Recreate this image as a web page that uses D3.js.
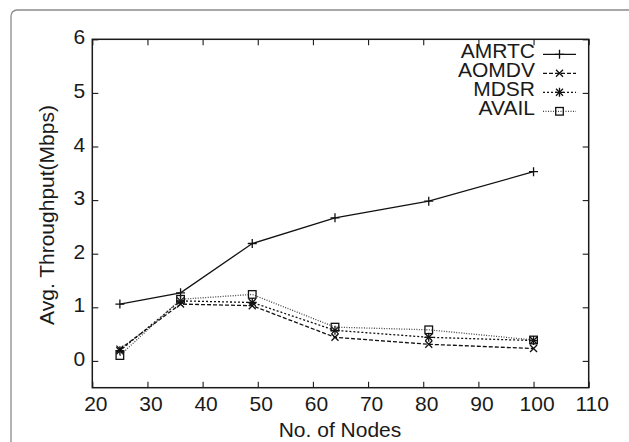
<!DOCTYPE html>
<html>
<head>
<meta charset="utf-8">
<script src="https://cdn.jsdelivr.net/npm/d3@7"></script>
<style>
  body { margin: 0; background: #fff; }
  svg { display: block; }
  text { font-family: "Liberation Sans", Arial, sans-serif; fill: #1a1a1a; }
</style>
</head>
<body>
<svg id="chart"></svg>
<script>
var width = 629
var height = 442

// data
var nodes = [25, 36, 49, 64, 81, 100]
var amrtc = [1.06, 1.27, 2.19, 2.67, 2.98, 3.53]
var aomdv = [0.22, 1.06, 1.03, 0.44, 0.31, 0.23]
var mdsr  = [0.19, 1.12, 1.09, 0.57, 0.44, 0.38]
var avail = [0.10, 1.15, 1.24, 0.63, 0.58, 0.39]
var seriesNames = ["AMRTC", "AOMDV", "MDSR", "AVAIL"]
var xTicks = [20, 30, 40, 50, 60, 70, 80, 90, 100, 110]
var yTicks = [0, 1, 2, 3, 4, 5, 6]

var plot = {left: 92.3, right: 588.7, top: 39.3, bottom: 387.7}
var fontSize = "21px"

var svg = d3.select("#chart")
  .attr("width", width)
  .attr("height", height)

svg.append("rect").attr("width", width).attr("height", height).attr("fill", "#fff")

// outer frame of the figure (rounded corner, runs off right/bottom)
svg.append("rect")
  .attr("x", 11).attr("y", 10)
  .attr("width", 640).attr("height", 460)
  .attr("rx", 6)
  .attr("fill", "none")
  .attr("stroke", "#8a8a8a")
  .attr("stroke-width", 1.3)

var x = d3.scaleLinear().domain([20, 110]).range([plot.left, plot.right])
var y = d3.scaleLinear().domain([-0.5, 6]).range([plot.bottom, plot.top])

function styleAxis(g, hideText) {
  g.select(".domain").remove()
  g.selectAll(".tick line").attr("stroke", "#1a1a1a").attr("stroke-width", 1.1)
  if (hideText) g.selectAll(".tick text").remove()
  else g.selectAll(".tick text")
    .attr("font-size", fontSize)
    .attr("fill", "#1a1a1a")
    .attr("font-family", "Liberation Sans, Arial, sans-serif")
}

svg.append("g")
  .attr("transform", "translate(0," + plot.bottom + ")")
  .call(d3.axisBottom(x).tickValues(xTicks).tickFormat(d3.format("d")).tickSize(-6).tickPadding(8))
  .call(function(g){ styleAxis(g, false) })
  .selectAll(".tick text").attr("dx", "3")

svg.append("g")
  .attr("transform", "translate(0," + plot.top + ")")
  .call(d3.axisTop(x).tickValues(xTicks).tickSize(-6))
  .call(function(g){ styleAxis(g, true) })

svg.append("g")
  .attr("transform", "translate(" + plot.left + ",0)")
  .call(d3.axisLeft(y).tickValues(yTicks).tickFormat(d3.format("d")).tickSize(-6).tickPadding(7))
  .call(function(g){ styleAxis(g, false) })
  .selectAll(".tick text").attr("dy", "0.22em")

svg.append("g")
  .attr("transform", "translate(" + plot.right + ",0)")
  .call(d3.axisRight(y).tickValues(yTicks).tickSize(-6))
  .call(function(g){ styleAxis(g, true) })

// plot border
svg.append("rect")
  .attr("x", plot.left).attr("y", plot.top)
  .attr("width", plot.right - plot.left)
  .attr("height", plot.bottom - plot.top)
  .attr("fill", "none")
  .attr("stroke", "#1a1a1a")
  .attr("stroke-width", 1.5)

// axis titles
svg.append("text")
  .attr("x", 340).attr("y", 437)
  .attr("text-anchor", "middle")
  .attr("font-size", fontSize)
  .text("No. of Nodes")

svg.append("text")
  .attr("transform", "translate(54," + 215 + ") rotate(-90)")
  .attr("text-anchor", "middle")
  .attr("font-size", fontSize)
  .text("Avg. Throughput(Mbps)")

var styles = [
  {values: amrtc, dash: null, color: "#111", marker: "plus"},
  {values: aomdv, dash: "4,2", color: "#111", marker: "cross"},
  {values: mdsr, dash: "2,2", color: "#111", marker: "star"},
  {values: avail, dash: "1,1.5", color: "#444", marker: "square"}
]

function drawMarker(g, type, cx, cy, color) {
  var s = 4.5
  if (type === "plus" || type === "star") {
    g.append("path").attr("d", "M" + (cx - s) + "," + cy + "H" + (cx + s) + "M" + cx + "," + (cy - s) + "V" + (cy + s))
      .attr("stroke", "#111").attr("stroke-width", 1.3).attr("fill", "none")
  }
  if (type === "cross" || type === "star") {
    var c = 3.5
    g.append("path").attr("d", "M" + (cx - c) + "," + (cy - c) + "L" + (cx + c) + "," + (cy + c) + "M" + (cx - c) + "," + (cy + c) + "L" + (cx + c) + "," + (cy - c))
      .attr("stroke", "#111").attr("stroke-width", 1.3).attr("fill", "none")
  }
  if (type === "square") {
    g.append("rect").attr("x", cx - 3.8).attr("y", cy - 3.8).attr("width", 7.6).attr("height", 7.6)
      .attr("stroke", "#111").attr("stroke-width", 1.3).attr("fill", "none")
  }
}

var line = d3.line()
  .x(function(d, i){ return x(nodes[i]) })
  .y(function(d){ return y(d) })

styles.forEach(function(s, k){
  var g = svg.append("g")
  g.append("path")
    .datum(s.values)
    .attr("d", line)
    .attr("fill", "none")
    .attr("stroke", s.color)
    .attr("stroke-width", 1.3)
    .attr("stroke-dasharray", s.dash)
  s.values.forEach(function(v, i){
    drawMarker(g, s.marker, x(nodes[i]), y(v), s.color)
  })

  // legend row
  var ly = 54.3 + k * 19
  svg.append("text")
    .attr("x", 535).attr("y", ly + 4)
    .attr("text-anchor", "end")
    .attr("font-size", fontSize)
    .text(seriesNames[k])
  svg.append("line")
    .attr("x1", 543).attr("x2", 576)
    .attr("y1", ly).attr("y2", ly)
    .attr("stroke", s.color)
    .attr("stroke-width", 1.3)
    .attr("stroke-dasharray", s.dash)
  drawMarker(svg.append("g"), s.marker, 559.5, ly, s.color)
})
</script>
</body>
</html>
